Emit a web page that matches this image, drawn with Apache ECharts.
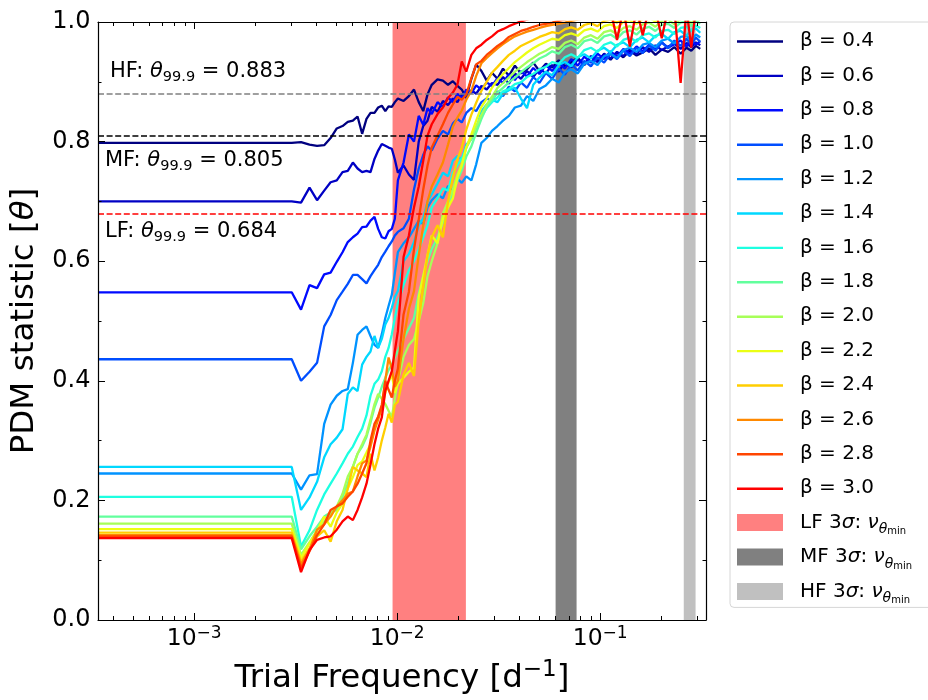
<!DOCTYPE html>
<html>
<head>
<meta charset="utf-8">
<script src="https://cdn.jsdelivr.net/npm/echarts@6/dist/echarts.min.js"></script>
<style>html,body{margin:0;padding:0;background:#fff}#c{width:928px;height:700px}</style>
</head>
<body>
<div id="c"></div>
<script>
// ---------------- DATA ----------------
const freq = [3.36e-4, 3.024e-3,
  3.36e-3, 3.70e-3, 4.03e-3, 4.37e-3, 4.70e-3, 5.04e-3, 5.38e-3, 5.71e-3, 6.05e-3, 6.38e-3,
  6.72e-3, 7.06e-3, 7.39e-3, 7.73e-3, 8.06e-3, 8.40e-3, 8.74e-3, 9.07e-3, 9.41e-3, 9.74e-3, 1.008e-2,
  1.075e-2, 1.142e-2, 1.21e-2, 1.277e-2, 1.344e-2, 1.411e-2, 1.48e-2, 1.58e-2, 1.68e-2, 1.78e-2,
  1.88e-2, 1.98e-2, 2.08e-2, 2.19e-2, 2.32e-2, 2.45e-2, 2.6e-2, 2.76e-2, 2.93e-2,
  3.12e-2, 3.32e-2, 3.55e-2, 3.8e-2, 4.07e-2, 4.36e-2, 4.68e-2, 5.02e-2, 5.4e-2, 5.8e-2,
  6.25e-2, 6.7e-2, 7.2e-2, 7.75e-2, 8.35e-2, 9.0e-2, 9.7e-2, 0.1045, 0.1125, 0.121,
  0.130, 0.140, 0.151, 0.162, 0.174, 0.187, 0.201, 0.216, 0.232, 0.249,
  0.266, 0.281, 0.296, 0.311];

const theta04 = [0.798, 0.798,
  0.799, 0.795, 0.793, 0.794, 0.806, 0.822, 0.826, 0.833, 0.835, 0.842, 0.813, 0.838, 0.848, 0.848, 0.857, 0.860, 0.851, 0.859, 0.858, 0.866, 0.872,
  0.868, 0.876, 0.887, 0.866, 0.851, 0.879, 0.895, 0.904, 0.902, 0.895, 0.901, 0.893, 0.887, 0.873, 0.905, 0.929, 0.918, 0.902, 0.915,
  0.905, 0.922, 0.910, 0.927, 0.914, 0.921, 0.932, 0.918, 0.930, 0.924, 0.936, 0.925, 0.933, 0.940, 0.928, 0.942, 0.935, 0.946, 0.937, 0.949,
  0.941, 0.952, 0.944, 0.949, 0.956, 0.945, 0.954, 0.950, 0.958, 0.947, 0.957, 0.952, 0.960, 0.955];
const theta06 = [0.700, 0.700,
  0.698, 0.723, 0.702, 0.718, 0.732, 0.735, 0.749, 0.751, 0.765, 0.755, 0.749, 0.751, 0.749, 0.771, 0.785, 0.796, 0.793, 0.790, 0.788, 0.770, 0.748,
  0.760, 0.745, 0.736, 0.800, 0.826, 0.835, 0.858, 0.850, 0.868, 0.861, 0.872, 0.866, 0.879, 0.874, 0.886, 0.880, 0.893, 0.887, 0.898,
  0.895, 0.908, 0.897, 0.914, 0.905, 0.918, 0.908, 0.922, 0.914, 0.928, 0.917, 0.933, 0.924, 0.937, 0.929, 0.943, 0.933, 0.947, 0.939, 0.950,
  0.943, 0.955, 0.946, 0.958, 0.950, 0.961, 0.953, 0.959, 0.964, 0.955, 0.965, 0.958, 0.966, 0.961];
const theta08 = [0.548, 0.548,
  0.519, 0.560, 0.555, 0.578, 0.581, 0.599, 0.615, 0.632, 0.640, 0.646, 0.657, 0.658, 0.668, 0.674, 0.654, 0.640, 0.638, 0.650, 0.654, 0.671, 0.735,
  0.765, 0.812, 0.800, 0.843, 0.828, 0.856, 0.846, 0.866, 0.858, 0.874, 0.866, 0.880, 0.872, 0.887, 0.881, 0.894, 0.887, 0.899, 0.893,
  0.906, 0.898, 0.913, 0.903, 0.918, 0.909, 0.923, 0.913, 0.928, 0.918, 0.932, 0.922, 0.938, 0.927, 0.942, 0.932, 0.947, 0.938, 0.951, 0.942,
  0.955, 0.947, 0.959, 0.951, 0.962, 0.954, 0.966, 0.957, 0.963, 0.969, 0.959, 0.970, 0.962, 0.968];
const theta10 = [0.436, 0.436,
  0.400, 0.415, 0.430, 0.491, 0.510, 0.535, 0.549, 0.562, 0.577, 0.577, 0.570, 0.563, 0.575, 0.585, 0.594, 0.607, 0.616, 0.625, 0.633, 0.643, 0.649,
  0.655, 0.671, 0.720, 0.755, 0.778, 0.792, 0.785, 0.805, 0.818, 0.812, 0.830, 0.838, 0.832, 0.848, 0.856, 0.851, 0.866, 0.872, 0.868,
  0.884, 0.876, 0.892, 0.884, 0.899, 0.890, 0.908, 0.898, 0.915, 0.905, 0.922, 0.912, 0.929, 0.919, 0.935, 0.926, 0.941, 0.932, 0.947, 0.938,
  0.952, 0.943, 0.957, 0.948, 0.961, 0.952, 0.966, 0.956, 0.969, 0.960, 0.972, 0.963, 0.974, 0.967];
const theta12 = [0.245, 0.245,
  0.218, 0.242, 0.244, 0.328, 0.360, 0.375, 0.383, 0.386, 0.430, 0.477, 0.485, 0.491, 0.475, 0.460, 0.455, 0.478, 0.505, 0.525, 0.544, 0.580, 0.615,
  0.630, 0.640, 0.654, 0.668, 0.662, 0.690, 0.702, 0.712, 0.705, 0.726, 0.719, 0.738, 0.731, 0.742, 0.735, 0.762, 0.798, 0.806, 0.818,
  0.826, 0.835, 0.843, 0.857, 0.860, 0.876, 0.868, 0.888, 0.894, 0.905, 0.899, 0.916, 0.921, 0.914, 0.930, 0.935, 0.928, 0.943, 0.947, 0.940,
  0.953, 0.957, 0.950, 0.962, 0.965, 0.958, 0.969, 0.972, 0.964, 0.975, 0.977, 0.969, 0.979, 0.974];
const theta14 = [0.256, 0.256,
  0.184, 0.205, 0.231, 0.272, 0.294, 0.305, 0.319, 0.378, 0.389, 0.383, 0.427, 0.440, 0.449, 0.475, 0.455, 0.470, 0.494, 0.505, 0.522, 0.540, 0.550,
  0.600, 0.612, 0.632, 0.660, 0.672, 0.700, 0.712, 0.730, 0.748, 0.742, 0.768, 0.776, 0.770, 0.795, 0.804, 0.820, 0.851, 0.862, 0.870,
  0.866, 0.880, 0.886, 0.890, 0.872, 0.856, 0.895, 0.907, 0.917, 0.911, 0.928, 0.933, 0.926, 0.941, 0.946, 0.939, 0.952, 0.957, 0.949, 0.962,
  0.966, 0.958, 0.970, 0.974, 0.966, 0.977, 0.980, 0.972, 0.983, 0.985, 0.977, 0.987, 0.989, 0.982];
const theta16 = [0.206, 0.206,
  0.123, 0.150, 0.184, 0.210, 0.228, 0.245, 0.262, 0.278, 0.290, 0.306, 0.320, 0.342, 0.375, 0.395, 0.402, 0.416, 0.440, 0.455, 0.478, 0.505, 0.530,
  0.560, 0.585, 0.600, 0.620, 0.640, 0.660, 0.690, 0.705, 0.722, 0.718, 0.748, 0.760, 0.772, 0.790, 0.808, 0.825, 0.842, 0.856, 0.866,
  0.874, 0.884, 0.888, 0.896, 0.899, 0.908, 0.913, 0.921, 0.925, 0.933, 0.930, 0.941, 0.946, 0.940, 0.953, 0.957, 0.950, 0.962, 0.966, 0.959,
  0.970, 0.974, 0.967, 0.978, 0.981, 0.974, 0.985, 0.987, 0.980, 0.990, 0.992, 0.985, 0.994, 0.990];
const theta18 = [0.173, 0.173,
  0.118, 0.140, 0.156, 0.173, 0.180, 0.184, 0.205, 0.228, 0.256, 0.278, 0.290, 0.306, 0.330, 0.355, 0.372, 0.390, 0.405, 0.418, 0.427, 0.440, 0.450,
  0.470, 0.488, 0.505, 0.545, 0.575, 0.600, 0.620, 0.640, 0.665, 0.690, 0.712, 0.735, 0.752, 0.775, 0.792, 0.815, 0.838, 0.858, 0.870,
  0.882, 0.890, 0.899, 0.907, 0.916, 0.924, 0.931, 0.939, 0.944, 0.951, 0.947, 0.958, 0.962, 0.956, 0.968, 0.971, 0.965, 0.976, 0.979, 0.972,
  0.983, 0.986, 0.979, 0.989, 0.992, 0.985, 0.995, 0.997, 0.990, 0.999, 1.001, 0.993, 1.002, 0.997];
const theta20 = [0.161, 0.161,
  0.109, 0.130, 0.150, 0.165, 0.178, 0.190, 0.211, 0.240, 0.256, 0.278, 0.294, 0.310, 0.335, 0.361, 0.378, 0.370, 0.361, 0.350, 0.339, 0.370, 0.400,
  0.440, 0.460, 0.470, 0.500, 0.530, 0.575, 0.600, 0.630, 0.680, 0.700, 0.720, 0.745, 0.762, 0.790, 0.805, 0.825, 0.845, 0.862, 0.875,
  0.890, 0.898, 0.907, 0.917, 0.925, 0.933, 0.940, 0.947, 0.952, 0.958, 0.955, 0.965, 0.969, 0.963, 0.974, 0.978, 0.972, 0.983, 0.986, 0.980,
  0.990, 0.993, 0.987, 0.996, 0.999, 0.992, 1.002, 1.004, 0.996, 1.005, 1.006, 0.998, 1.007, 1.003];
const theta22 = [0.152, 0.152,
  0.104, 0.128, 0.149, 0.173, 0.156, 0.180, 0.195, 0.220, 0.239, 0.259, 0.265, 0.280, 0.294, 0.320, 0.340, 0.355, 0.380, 0.398, 0.411, 0.380, 0.395,
  0.405, 0.415, 0.422, 0.540, 0.575, 0.610, 0.643, 0.630, 0.671, 0.690, 0.705, 0.740, 0.760, 0.790, 0.812, 0.835, 0.858, 0.872, 0.890,
  0.903, 0.913, 0.923, 0.933, 0.941, 0.949, 0.956, 0.962, 0.967, 0.972, 0.970, 0.978, 0.981, 0.977, 0.986, 0.989, 0.984, 0.993, 0.996, 0.990,
  1.000, 1.003, 0.997, 1.005, 1.007, 1.001, 1.008, 1.010, 1.004, 1.011, 1.012, 1.006, 1.012, 1.009];
const theta24 = [0.146, 0.146,
  0.098, 0.120, 0.140, 0.150, 0.131, 0.165, 0.184, 0.220, 0.256, 0.250, 0.245, 0.239, 0.278, 0.250, 0.272, 0.300, 0.322, 0.345, 0.330, 0.360, 0.365,
  0.410, 0.430, 0.408, 0.500, 0.560, 0.610, 0.640, 0.660, 0.640, 0.700, 0.740, 0.770, 0.790, 0.820, 0.845, 0.865, 0.885, 0.900, 0.915,
  0.925, 0.935, 0.945, 0.952, 0.960, 0.965, 0.970, 0.975, 0.979, 0.983, 0.981, 0.988, 0.991, 0.987, 0.995, 0.998, 0.993, 1.002, 1.004, 0.999,
  1.007, 1.009, 1.004, 1.010, 1.012, 1.007, 1.013, 1.014, 1.009, 1.015, 1.016, 1.011, 1.016, 1.013];
const theta26 = [0.142, 0.142,
  0.093, 0.118, 0.151, 0.160, 0.173, 0.190, 0.200, 0.211, 0.215, 0.240, 0.262, 0.267, 0.290, 0.317, 0.335, 0.355, 0.400, 0.439, 0.420, 0.390, 0.400,
  0.470, 0.520, 0.550, 0.610, 0.660, 0.700, 0.725, 0.745, 0.765, 0.795, 0.825, 0.840, 0.852, 0.870, 0.885, 0.910, 0.931, 0.940, 0.948,
  0.956, 0.963, 0.970, 0.976, 0.980, 0.984, 0.987, 0.990, 0.993, 0.995, 0.997, 0.999, 1.002, 1.004, 1.006, 1.008, 1.009, 1.010, 1.012, 1.010,
  1.013, 1.014, 1.012, 1.015, 1.014, 1.013, 1.015, 1.016, 1.014, 1.016, 1.015, 1.017, 1.015, 1.017];
const theta28 = [0.140, 0.140,
  0.087, 0.115, 0.142, 0.160, 0.184, 0.190, 0.195, 0.206, 0.215, 0.228, 0.245, 0.262, 0.300, 0.328, 0.340, 0.360, 0.400, 0.385, 0.372, 0.400, 0.420,
  0.511, 0.549, 0.620, 0.670, 0.720, 0.760, 0.790, 0.810, 0.829, 0.848, 0.862, 0.875, 0.870, 0.879, 0.906, 0.929, 0.935, 0.945, 0.952,
  0.960, 0.966, 0.975, 0.980, 0.985, 0.988, 0.992, 0.995, 0.997, 0.999, 1.002, 1.004, 1.007, 1.009, 1.011, 1.012, 1.014, 1.015, 1.016, 1.015,
  1.017, 1.018, 1.016, 1.019, 1.018, 1.017, 1.019, 1.020, 1.018, 1.020, 1.019, 1.021, 1.019, 1.021];
const theta30 = [0.137, 0.137,
  0.080, 0.117, 0.134, 0.138, 0.140, 0.151, 0.165, 0.173, 0.167, 0.184, 0.205, 0.228, 0.260, 0.294, 0.320, 0.339, 0.383, 0.400, 0.416, 0.450, 0.483,
  0.607, 0.643, 0.690, 0.725, 0.768, 0.810, 0.829, 0.846, 0.857, 0.873, 0.882, 0.895, 0.934, 0.917, 0.945, 0.956, 0.962, 0.970, 0.976,
  0.984, 0.988, 0.993, 0.997, 1.001, 1.004, 1.007, 1.010, 1.012, 1.014, 1.016, 1.017, 1.018, 1.019, 1.020, 1.021, 1.020, 1.022, 1.021, 0.970,
  1.022, 0.959, 1.022, 0.978, 1.023, 1.022, 0.973, 1.023, 1.022, 0.898, 1.023, 0.957, 1.022, 1.024];

const betaValues = ['0.4', '0.6', '0.8', '1.0', '1.2', '1.4', '1.6', '1.8', '2.0', '2.2', '2.4', '2.6', '2.8', '3.0'];
const thetaSeries = [theta04, theta06, theta08, theta10, theta12, theta14, theta16, theta18, theta20, theta22, theta24, theta26, theta28, theta30];

const thrNames = ['HF', 'MF', 'LF'];
const thrValues = [0.883, 0.805, 0.684];

const bandNames = ['LF', 'MF', 'HF'];
const bandLF = [9.49e-3, 2.18e-2];
const bandMF = [6.03e-2, 7.65e-2];
const bandHF = [0.258, 0.295];
const bandRanges = [bandLF, bandMF, bandHF];
const bandTop = 1.0;

const xMajorTicks = [1e-3, 1e-2, 1e-1];
const xMinorTicks = [4e-4, 5e-4, 6e-4, 7e-4, 8e-4, 9e-4,
  2e-3, 3e-3, 4e-3, 5e-3, 6e-3, 7e-3, 8e-3, 9e-3,
  2e-2, 3e-2, 4e-2, 5e-2, 6e-2, 7e-2, 8e-2, 9e-2, 0.2, 0.3];

// ---------------- STYLE ----------------
const FONT = 'DejaVu Sans';
const lineColors = ['#000080', '#0000c4', '#000aff', '#004eff', '#0093ff', '#00d8ff', '#1dffe1',
  '#62ff9d', '#a7ff58', '#ebff14', '#ffce00', '#ff8900', '#ff4500', '#ff0000'];
const bandColors = ['#ff8080', '#808080', '#c0c0c0'];
const thrColors = ['#808080', '#000000', '#ff0000'];
const thrLabelPos = ['insideStartTop', 'insideStartBottom', 'insideStartBottom'];
const thrLabelDist = [[12, 9], [7, 12], [7, 5.5]];
const LINE_ICON = 'path://M0,0M46,17M0,7.8L46,7.8L46,10.2L0,10.2Z';

thetaSeries.forEach((s, i) => {
  if (s.length !== freq.length) throw new Error('length mismatch for beta ' + betaValues[i] + ': ' + s.length);
});

const betaNames = betaValues.map(b => 'β = ' + b);
const XMIN = 3.36e-4, XMAX = 0.332;

const series = [];
bandNames.forEach((n, i) => {
  series.push({
    name: n, type: 'line', z: 2, silent: true, symbol: 'none', showSymbol: false,
    color: bandColors[i], itemStyle: { color: bandColors[i] },
    lineStyle: { width: 0, opacity: 0 },
    areaStyle: { color: bandColors[i], opacity: 1, origin: 'start' },
    data: [[bandRanges[i][0], bandTop], [bandRanges[i][1], bandTop]],
    animation: false
  });
});
thetaSeries.forEach((vals, i) => {
  series.push({
    name: betaNames[i], type: 'line', z: 2, symbol: 'none', showSymbol: false,
    color: lineColors[i], itemStyle: { color: lineColors[i] },
    lineStyle: { width: 2.3, color: lineColors[i] },
    data: freq.map((f, k) => [f, vals[k]]),
    clip: true, animation: false
  });
});
const thrRich = {
  t: { fontSize: 21, fontFamily: FONT, color: '#000', lineHeight: 26 },
  i: { fontSize: 21, fontFamily: FONT, fontStyle: 'italic', color: '#000', lineHeight: 26 },
  s: { fontSize: 14.5, fontFamily: FONT, color: '#000', lineHeight: 14, verticalAlign: 'bottom' }
};
series.push({
  name: 'thresholds', type: 'line', data: [], z: 5,
  markLine: {
    silent: true, symbol: ['none', 'none'], animation: false, z: 5,
    data: thrNames.map((n, i) => ({
      yAxis: thrValues[i],
      lineStyle: { color: thrColors[i], type: [6, 2.6], width: 1.6 },
      label: {
        show: true, position: thrLabelPos[i], distance: thrLabelDist[i],
        formatter: () => '{t|' + n + ': }{i|θ}{s|99.9}{t| = ' + thrValues[i].toFixed(3) + '}',
        rich: thrRich
      }
    }))
  }
});

const legendRich = {
  p: { fontSize: 20, fontFamily: FONT, color: '#000', lineHeight: 28, padding: [0, 0, 0, 12] },
  t: { fontSize: 20, fontFamily: FONT, color: '#000', lineHeight: 28 },
  it: { fontSize: 20, fontFamily: FONT, fontStyle: 'italic', color: '#000', lineHeight: 28 },
  sub: { fontSize: 14, fontFamily: FONT, fontStyle: 'italic', color: '#000', lineHeight: 15, verticalAlign: 'bottom' },
  sub2: { fontSize: 10, fontFamily: FONT, color: '#000', lineHeight: 10, verticalAlign: 'bottom' }
};

const axisLineStyle = { color: '#000', width: 1.2 };
const tickStyle = { color: '#000', width: 1 };
function xAxisDef(pos, major, labels) {
  return {
    type: 'log', min: XMIN, max: XMAX, position: pos, z: 10,
    axisLine: { show: major, onZero: false, lineStyle: axisLineStyle },
    axisTick: { show: true, inside: true, length: major ? 7 : 4, lineStyle: tickStyle, customValues: major ? xMajorTicks : xMinorTicks },
    minorTick: { show: false },
    splitLine: { show: false },
    axisLabel: labels ? {
      show: true, customValues: xMajorTicks, margin: 5,
      formatter: v => '{b|10}{s|\u2212' + Math.abs(Math.round(Math.log10(v))) + '}',
      rich: {
        b: { fontSize: 23.5, fontFamily: FONT, color: '#000', lineHeight: 28 },
        s: { fontSize: 17, fontFamily: FONT, color: '#000', lineHeight: 17, verticalAlign: 'top' }
      }
    } : { show: false }
  };
}
const xAxes = [xAxisDef('bottom', true, true), xAxisDef('bottom', false, false), xAxisDef('top', true, false), xAxisDef('top', false, false)];
xAxes[0].name = '{a|Trial Frequency [d}{s|\u22121}{a|]}';
xAxes[0].nameLocation = 'middle';
xAxes[0].nameGap = 39;
xAxes[0].nameTextStyle = { rich: {
  a: { fontSize: 32.5, fontFamily: FONT, color: '#000', lineHeight: 39 },
  s: { fontSize: 23, fontFamily: FONT, color: '#000', lineHeight: 23, verticalAlign: 'top' }
} };

function yAxisDef(pos, labels) {
  return {
    type: 'value', min: 0, max: 1, interval: 0.2, position: pos, z: 10,
    axisLine: { show: true, onZero: false, lineStyle: axisLineStyle },
    axisTick: { show: true, inside: true, length: 7, lineStyle: tickStyle },
    minorTick: { show: true, splitNumber: 2, length: 3.5, lineStyle: tickStyle },
    splitLine: { show: false },
    axisLabel: labels ? { show: true, margin: 7.5, fontSize: 24, fontFamily: FONT, color: '#000', formatter: v => v.toFixed(1) } : { show: false }
  };
}
const yAxes = [yAxisDef('left', true), yAxisDef('right', false)];
yAxes[0].name = '{a|PDM statistic [}{i|θ}{a|]}';
yAxes[0].nameLocation = 'middle';
yAxes[0].nameGap = 54;
yAxes[0].nameTextStyle = { rich: {
  a: { fontSize: 32.5, fontFamily: FONT, color: '#000', lineHeight: 36 },
  i: { fontSize: 32.5, fontFamily: FONT, fontStyle: 'italic', color: '#000', lineHeight: 36 }
} };

const chart = echarts.init(document.getElementById('c'), null, { renderer: 'canvas', width: 928, height: 700 });
chart.setOption({
  animation: false,
  backgroundColor: '#fff',
  grid: { left: 98, right: 222, top: 22, bottom: 76, containLabel: false },
  xAxis: xAxes,
  yAxis: yAxes,
  legend: {
    orient: 'vertical', left: 730, top: 22,
    itemWidth: 46, itemHeight: 17, itemGap: 6.4,
    padding: [5, 45, 2, 7],
    backgroundColor: '#fff', borderColor: '#d6d6d6', borderWidth: 1, borderRadius: 4,
    selectedMode: false,
    data: betaNames.map(n => ({ name: n, icon: LINE_ICON }))
      .concat(bandNames.map(n => ({ name: n, icon: 'rect' }))),
    formatter: name => bandNames.indexOf(name) >= 0
      ? '{p|' + name + ' 3}{it|σ}{t|: }{it|ν}{sub|θ}{sub2|min}'
      : '{p|' + name + '}',
    textStyle: { fontFamily: FONT, fontSize: 20, color: '#000', lineHeight: 28, rich: legendRich }
  },
  series: series
});
</script>
</body>
</html>
